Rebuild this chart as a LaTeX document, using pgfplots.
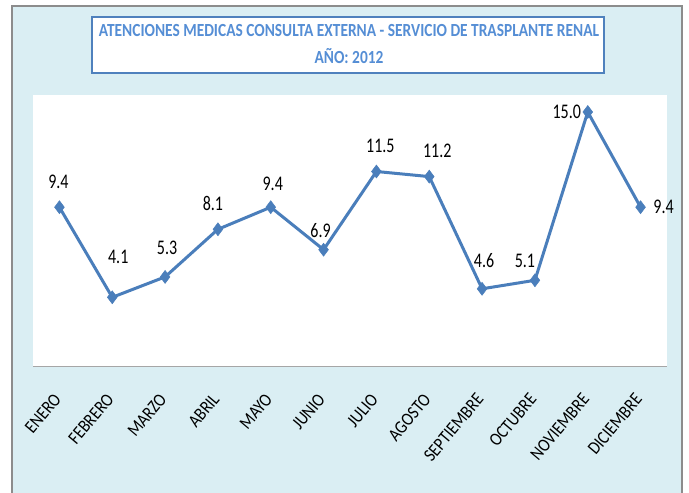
\documentclass[border=0pt]{standalone}
\usepackage{fontspec}
\setmainfont{Carlito}
\usepackage{pgfplots}
\pgfplotsset{compat=1.18}
\usepackage{pgfplotstable}
\definecolor{bgblue}{HTML}{DAEEF3}
\definecolor{lineblue}{HTML}{4A7EBB}
\definecolor{titleblue}{HTML}{558ED5}
\definecolor{boxblue}{HTML}{4F81BD}
\definecolor{framegray}{HTML}{8C8C8C}

\pgfplotstableread{
x y dx dy
0 9.4 -1 25
1 4.1 6 40
2 5.3 2 29
3 8.1 -5 26
4 9.4 2 23
5 6.9 -3 19
6 11.5 4 26
7 11.2 8 26
8 4.6 2 28
9 5.1 -10 19
10 15.0 -21 0
11 9.4 23 0
}\datatable

\begin{document}
\begin{tikzpicture}[x=1pt,y=1pt]
\useasboundingbox (0,0) rectangle (689,493);
\fill[white] (0,0) rectangle (689,493);
\fill[bgblue] (12,-5) rectangle (682,487);
\draw[framegray, line width=1.5pt] (12,-5) rectangle (682,487);
\draw[boxblue, line width=1.5pt, fill=white] (92,420) rectangle (604,476);
\node[text=titleblue, font=\bfseries\fontsize{15.4}{17}\selectfont, yscale=1.2, inner sep=0pt] at (349,462) {ATENCIONES MEDICAS CONSULTA EXTERNA - SERVICIO DE TRASPLANTE RENAL};
\node[text=titleblue, font=\bfseries\fontsize{15.4}{17}\selectfont, yscale=1.2, inner sep=0pt] at (349,437) {AÑO: 2012};
\begin{axis}[
  at={(33pt,126pt)}, anchor=south west,
  scale only axis, width=634pt, height=272pt,
  xmin=-0.5, xmax=11.5, ymin=0, ymax=16,
  axis background/.style={fill=white},
  axis x line*=bottom, axis y line=none,
  axis line style={-, draw=gray!70, line width=1pt},
  xtick={0,...,11},
  xticklabels={ENERO,FEBRERO,MARZO,ABRIL,MAYO,JUNIO,JULIO,AGOSTO,SEPTIEMBRE,OCTUBRE,NOVIEMBRE,DICIEMBRE},
  major tick length=0pt,
  xtick style={draw=none},
  ytick=\empty,
  xticklabel style={font=\fontsize{16}{18}\selectfont, anchor=east, inner sep=0pt, xshift=-2pt, yshift=-29pt, rotate=50, yscale=1.15},
  /pgf/number format/assume math mode=true,
  clip=false,
]
\addplot[color=lineblue, line width=3pt, mark=diamond*, mark size=6.5pt,
  mark options={solid, line width=0.5pt, fill=lineblue},
  visualization depends on={\thisrow{dx} \as \dx},
  visualization depends on={\thisrow{dy} \as \dy},
  nodes near coords={\pgfmathprintnumber[fixed, fixed zerofill, precision=1]{\pgfplotspointmeta}},
  nodes near coords style={anchor=center, text=black, font=\fontsize{16}{18}\selectfont, xshift=\dx pt, yshift=\dy pt, yscale=1.3, inner sep=0pt},
] table[x=x, y=y] {\datatable};
\end{axis}
\end{tikzpicture}
\end{document}
